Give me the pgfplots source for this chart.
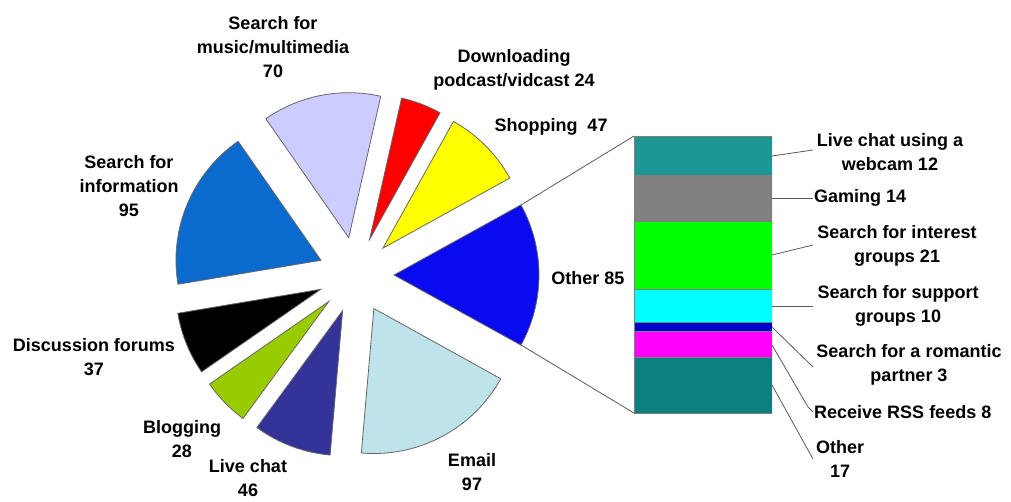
\documentclass[border=0pt]{standalone}
\usepackage{fontspec}
\setmainfont{Liberation Sans}
\usepackage{pgfplots}
\pgfplotsset{compat=1.18}
\definecolor{cMusic}{HTML}{CCCCFF}
\definecolor{cDown}{HTML}{FF0000}
\definecolor{cShop}{HTML}{FFFF00}
\definecolor{cOther}{HTML}{0A0AF0}
\definecolor{cEmail}{HTML}{BFE3EA}
\definecolor{cLive}{HTML}{333399}
\definecolor{cBlog}{HTML}{99CC00}
\definecolor{cDisc}{HTML}{000000}
\definecolor{cInfo}{HTML}{0A6ACD}
\definecolor{bWebcam}{HTML}{1E9696}
\definecolor{bGaming}{HTML}{808080}
\definecolor{bInterest}{HTML}{00FF00}
\definecolor{bSupport}{HTML}{00FFFF}
\definecolor{bRomantic}{HTML}{0000CC}
\definecolor{bRSS}{HTML}{FF00FF}
\definecolor{bOther}{HTML}{0B8080}
\tikzset{lbl/.style={font=\fontsize{18}{24}\selectfont\bfseries, align=center, inner sep=0pt},
         lead/.style={draw=black!65, line width=0.8pt}}
\begin{document}
\begin{tikzpicture}
\useasboundingbox (0,0) rectangle (1011pt,501pt);
\begin{axis}[scale only axis, width=1011pt, height=501pt,
  xmin=0, xmax=1011, ymin=0, ymax=501, hide axis, clip=false,
  at={(0,0)}, anchor=south west]
\pgfmathsetmacro\pietotal{529}
\pgfmathsetmacro\startang{-85/529*180}
\xdef\curang{\startang}
\foreach \v/\c in {85/cOther,47/cShop,24/cDown,70/cMusic,95/cInfo,37/cDisc,28/cBlog,46/cLive,97/cEmail} {
  \pgfmathsetmacro\sweep{\v/\pietotal*360}
  \pgfmathsetmacro\endang{\curang+\sweep}
  \pgfmathsetmacro\midang{\curang+\sweep/2}
  \pgfmathsetmacro\ax{356+38*cos(\midang)}
  \pgfmathsetmacro\ay{226+38*sin(\midang)}
  \edef\tmp{\noexpand\filldraw[fill=\c,draw=black!60,line width=0.8pt] (axis cs:\ax,\ay) -- ++(\curang:145pt) arc[start angle=\curang,end angle=\endang,radius=145pt] -- cycle;}
  \tmp
  \xdef\curang{\endang}
}
% connector lines from the Other slice to the bar
\draw[lead] (axis cs:521,296) -- (axis cs:634,365);
\draw[lead] (axis cs:521,156) -- (axis cs:634,88);
% pie labels
\node[lbl] at (axis cs:273,454) {Search for\\music/multimedia\\70};
\node[lbl] at (axis cs:514,431) {Downloading\\podcast/vidcast 24};
\node[lbl] at (axis cs:551,374) {Shopping\ \ 47};
\node[lbl] at (axis cs:129,315) {Search for\\information\\95};
\node[lbl] at (axis cs:588,223) {Other 85};
\node[lbl] at (axis cs:94,144) {Discussion forums\\37};
\node[lbl] at (axis cs:182,62) {Blogging\\28};
\node[lbl] at (axis cs:248,23) {Live chat\\46};
\node[lbl] at (axis cs:472,29) {Email\\97};
% bar labels and leaders
\draw[lead] (axis cs:772,345) -- (axis cs:813,351);
\node[lbl] at (axis cs:890,349) {Live chat using a\\webcam 12};
\draw[lead] (axis cs:772,303) -- (axis cs:813,303);
\node[lbl, anchor=west] at (axis cs:814,303) {Gaming 14};
\draw[lead] (axis cs:772,246) -- (axis cs:813,256);
\node[lbl] at (axis cs:897,255) {Search for interest\\groups 21};
\draw[lead] (axis cs:772,195) -- (axis cs:813,195);
\node[lbl] at (axis cs:898,195) {Search for support\\groups 10};
\draw[lead] (axis cs:772,174) -- (axis cs:813,134);
\node[lbl] at (axis cs:909,136) {Search for a romantic\\partner 3};
\draw[lead] (axis cs:772,156) -- (axis cs:808,94) -- (axis cs:813,89);
\node[lbl, anchor=west] at (axis cs:814,89) {Receive RSS feeds 8};
\draw[lead] (axis cs:772,116) -- (axis cs:813,42);
\node[lbl] at (axis cs:840,42) {Other\\17};
\end{axis}
\begin{axis}[scale only axis, width=138pt, height=277pt,
  at={(634pt,88pt)}, anchor=south west,
  xmin=-0.5, xmax=0.5, ymin=0, ymax=85, hide axis,
  ybar stacked, bar width=138pt]
\addplot[fill=bOther, draw=black!50] coordinates {(0,17)};
\addplot[fill=bRSS, draw=black!50] coordinates {(0,8)};
\addplot[fill=bRomantic, draw=black!50] coordinates {(0,3)};
\addplot[fill=bSupport, draw=black!50] coordinates {(0,10)};
\addplot[fill=bInterest, draw=black!50] coordinates {(0,21)};
\addplot[fill=bGaming, draw=black!50] coordinates {(0,14)};
\addplot[fill=bWebcam, draw=black!50] coordinates {(0,12)};
\end{axis}
\end{tikzpicture}
\end{document}
